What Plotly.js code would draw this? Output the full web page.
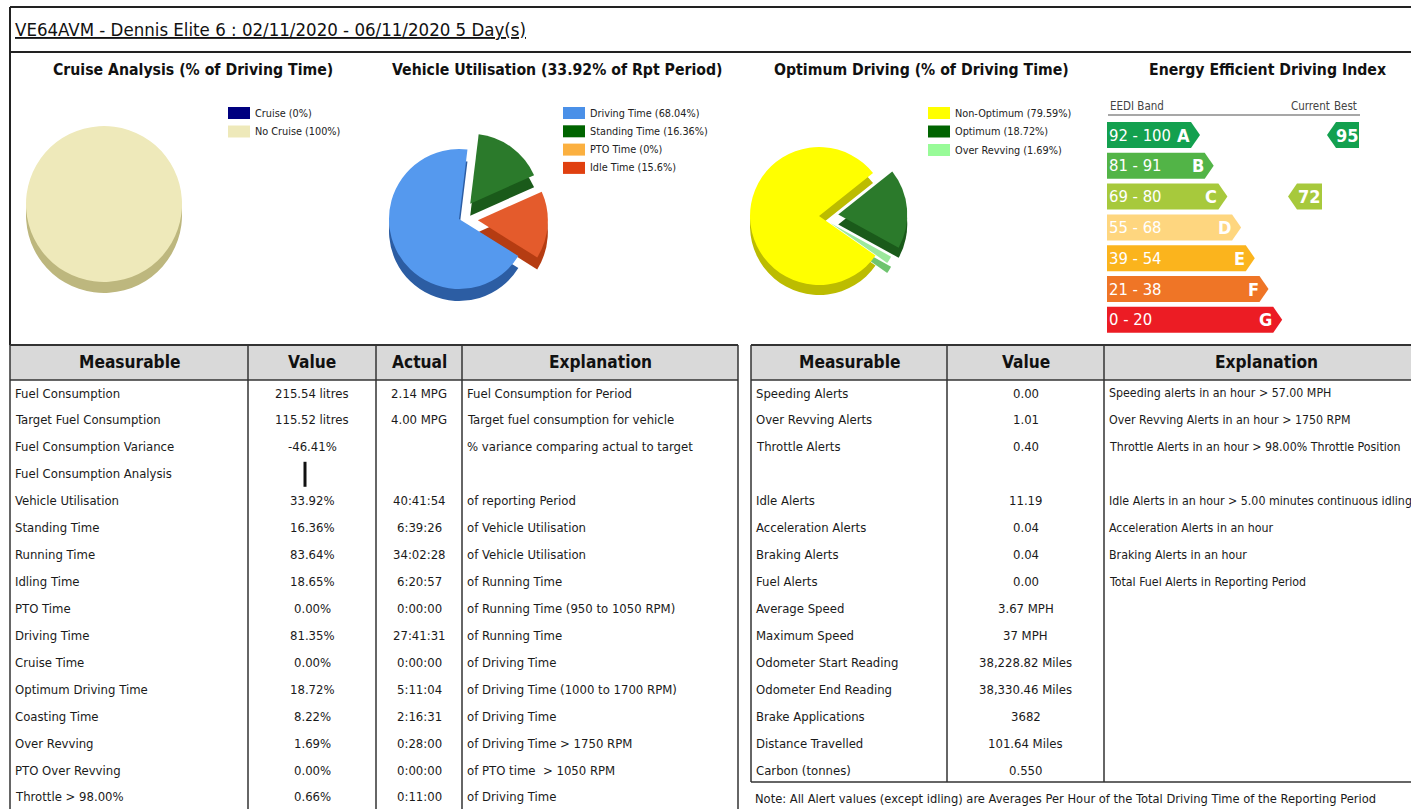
<!DOCTYPE html>
<html><head><meta charset="utf-8">
<script src="https://cdn.plot.ly/plotly-3.0.1.min.js"></script>
<style>html,body{margin:0;padding:0;background:#fff}#chart{width:1411px;height:809px}</style>
</head><body><div id="chart"></div>
<script>
// ---------------- DATA ----------------
const reportTitle = "VE64AVM - Dennis Elite 6 : 02/11/2020 - 06/11/2020 5 Day(s)";
const sectionTitles = ["Cruise Analysis (% of Driving Time)", "Vehicle Utilisation (33.92% of Rpt Period)", "Optimum Driving (% of Driving Time)", "Energy Efficient Driving Index"];

const cruiseLabels = ["Cruise", "No Cruise"];
const cruiseValues = [0, 100];

const utilLabels = ["Driving Time", "Standing Time", "PTO Time", "Idle Time"];
const utilValues = [68.04, 16.36, 0, 15.6];

const optLabels = ["Non-Optimum", "Optimum", "Over Revving"];
const optValues = [79.59, 18.72, 1.69];

const eediBands = ["92 - 100", "81 - 91", "69 - 80", "55 - 68", "39 - 54", "21 - 38", "0 - 20"];
const eediLetters = ["A", "B", "C", "D", "E", "F", "G"];
const eediBandMin = [92, 81, 69, 55, 39, 21, 0];
const eediCurrent = 72;
const eediBest = 95;

const leftHeaders = ["Measurable", "Value", "Actual", "Explanation"];
const leftMeasurable = ["Fuel Consumption", "Target Fuel Consumption", "Fuel Consumption Variance", "Fuel Consumption Analysis", "Vehicle Utilisation", "Standing Time", "Running Time", "Idling Time", "PTO Time", "Driving Time", "Cruise Time", "Optimum Driving Time", "Coasting Time", "Over Revving", "PTO Over Revving", "Throttle > 98.00%"];
const leftValue = ["215.54 litres", "115.52 litres", "-46.41%", "", "33.92%", "16.36%", "83.64%", "18.65%", "0.00%", "81.35%", "0.00%", "18.72%", "8.22%", "1.69%", "0.00%", "0.66%"];
const leftActual = ["2.14 MPG", "4.00 MPG", "", "", "40:41:54", "6:39:26", "34:02:28", "6:20:57", "0:00:00", "27:41:31", "0:00:00", "5:11:04", "2:16:31", "0:28:00", "0:00:00", "0:11:00"];
const leftExplanation = ["Fuel Consumption for Period", "Target fuel consumption for vehicle", "% variance comparing actual to target", "", "of reporting Period", "of Vehicle Utilisation", "of Vehicle Utilisation", "of Running Time", "of Running Time (950 to 1050 RPM)", "of Running Time", "of Driving Time", "of Driving Time (1000 to 1700 RPM)", "of Driving Time", "of Driving Time > 1750 RPM", "of PTO time  > 1050 RPM", "of Driving Time"];
const fuelAnalysisRow = 3;

const rightHeaders = ["Measurable", "Value", "Explanation"];
const rightMeasurable = ["Speeding Alerts", "Over Revving Alerts", "Throttle Alerts", "", "Idle Alerts", "Acceleration Alerts", "Braking Alerts", "Fuel Alerts", "Average Speed", "Maximum Speed", "Odometer Start Reading", "Odometer End Reading", "Brake Applications", "Distance Travelled", "Carbon (tonnes)"];
const rightValue = ["0.00", "1.01", "0.40", "", "11.19", "0.04", "0.04", "0.00", "3.67 MPH", "37 MPH", "38,228.82 Miles", "38,330.46 Miles", "3682", "101.64 Miles", "0.550"];
const rightExplanation = ["Speeding alerts in an hour > 57.00 MPH", "Over Revving Alerts in an hour > 1750 RPM", "Throttle Alerts in an hour > 98.00% Throttle Position", "", "Idle Alerts in an hour > 5.00 minutes continuous idling", "Acceleration Alerts in an hour", "Braking Alerts in an hour", "Total Fuel Alerts in Reporting Period", "", "", "", "", "", "", ""];
const noteText = "Note: All Alert values (except idling) are Averages Per Hour of the Total Driving Time of the Reporting Period";

// ---------------- STYLE / LAYOUT ----------------
const W = 1411, H = 809;
const FONT = '"DejaVu Sans Condensed","Liberation Sans Narrow","Arial Narrow","Liberation Sans",sans-serif';
const INK = '#1a1a1a';
const shapes = [], annotations = [], traces = [];

function line(x0, y0, x1, y1, color, width) {
  shapes.push({type: 'line', xref: 'x', yref: 'y', x0, y0, x1, y1, line: {color: color || '#333', width: width || 1.5}});
}
function rect(x0, y0, x1, y1, fill) {
  shapes.push({type: 'rect', xref: 'x', yref: 'y', x0, y0, x1, y1, fillcolor: fill, line: {width: 0}, layer: 'below'});
}
function path(d, fill) {
  shapes.push({type: 'path', xref: 'x', yref: 'y', path: d, fillcolor: fill, line: {width: 0}});
}
function text(x, y, t, o) {
  o = o || {};
  annotations.push({xref: 'x', yref: 'y', x, y, text: t, showarrow: false,
    xanchor: o.xa || 'left', yanchor: 'middle', align: o.xa || 'left',
    font: Object.assign({family: FONT, size: o.size || 13, color: o.color || INK}, o.font || {})});
}

// invisible trace so the pixel-space axes exist
traces.push({type: 'scatter', x: [0, W], y: [0, H], mode: 'markers', marker: {opacity: 0}, hoverinfo: 'skip', showlegend: false});

// ---- title band ----
line(10, 7, W, 7, '#222', 2);
line(10, 52, W, 52, '#222', 2);
line(10, 7, 10, 345, '#222', 2);
text(13, 29, reportTitle, {size: 18.5, font: {lineposition: 'under', color: '#111'}});

// ---- section titles ----
const secX = [193, 557, 921, 1267];
sectionTitles.forEach((t, i) => text(secX[i], 69, '<b>' + t + '</b>', {xa: 'center', size: 15.7, color: '#111'}));

// ---- pies (top face + darker, lowered under-face for depth) ----
function pie(values, labels, colors, edgeColors, cx, cy, r, depth, pulls, rotation) {
  const maxPull = Math.max.apply(null, pulls);
  const h = r * (1 + maxPull);
  const mk = (dy, cols) => ({
    type: 'pie', values, labels, sort: false, direction: 'clockwise', rotation,
    pull: pulls, textinfo: 'none', hoverinfo: 'skip', showlegend: false,
    marker: {colors: cols, line: {width: 0}},
    domain: {x: [(cx - h) / W, (cx + h) / W], y: [1 - (cy + dy + h) / H, 1 - (cy + dy - h) / H]}
  });
  traces.push(mk(depth, edgeColors));
  traces.push(mk(0, colors));
}
function legend(labels, values, colors, x0, y0, pitch) {
  labels.forEach((l, i) => {
    const y = y0 + i * pitch;
    rect(x0, y - 6, x0 + 22, y + 6, colors[i]);
    text(x0 + 25, y, l + ' (' + values[i] + '%)', {size: 10.8, color: '#222'});
  });
}

const cruiseColors = ['#00007f', '#eee9ba'];
const cruiseEdge = ['#00005a', '#bdb77e'];
pie(cruiseValues, cruiseLabels, cruiseColors, cruiseEdge, 104, 204, 78, 11, [0.08, 0], 120);
legend(cruiseLabels, cruiseValues, cruiseColors, 228, 113, 18.5);

const utilColors = ['#5599ee', '#2b7a2b', '#f6b043', '#e45b2c'];
const utilEdge = ['#2c5da3', '#1a5a1a', '#c98a25', '#b53c12'];
const utilLegend = ['#4a90e8', '#006400', '#fbb040', '#e04010'];
pie(utilValues, utilLabels, utilColors, utilEdge, 459, 219, 70, 12, [0, 0.27, 0.27, 0.27], 122);
legend(utilLabels, utilValues, utilLegend, 563, 113, 18.3);

const optColors = ['#ffff00', '#2b7a2b', '#9be89b'];
const optEdge = ['#bcbc00', '#1a5a1a', '#6fc46f'];
const optLegend = ['#ffff00', '#006400', '#98fb98'];
pie(optValues, optLabels, optColors, optEdge, 819, 216, 69, 10, [0, 0.28, 0.2], 125);
legend(optLabels, optValues, optLegend, 928, 113, 18.5);

// ---- EEDI ----
const bandColors = ['#13a04f', '#52b447', '#a7c93c', '#fed67f', '#fbb41d', '#ef7526', '#ec1c24'];
const bandTop0 = 122, bandPitch = 30.8, bandH = 26, bandX0 = 1107, tip0 = 1200, tipStep = 13.7, tipDepth = 9;
text(1108, 106, 'EEDI Band', {size: 11.5, color: '#444'});
text(1289, 106, 'Current', {size: 11.5, color: '#444'});
text(1332, 106, 'Best', {size: 11.5, color: '#444'});
line(1108, 115, 1360, 115, '#8a8a8a', 1.5);
eediBands.forEach((b, i) => {
  const yt = bandTop0 + i * bandPitch, yb = yt + bandH, ym = (yt + yb) / 2;
  const xt = tip0 + i * tipStep, xb = xt - tipDepth;
  path(`M${bandX0},${yt} L${xb},${yt} L${xt},${ym} L${xb},${yb} L${bandX0},${yb} Z`, bandColors[i]);
  text(bandX0, ym, b, {size: 16.5, color: '#ffffff'});
  text(xb + 1, ym, '<b>' + eediLetters[i] + '</b>', {xa: 'right', size: 18, color: '#ffffff'});
});
function bandIndex(score) { for (let i = 0; i < eediBandMin.length; i++) if (score >= eediBandMin[i]) return i; return eediBandMin.length - 1; }
function scoreArrow(score, xTip, xRight) {
  const i = bandIndex(score);
  const yt = bandTop0 + i * bandPitch, yb = yt + bandH, ym = (yt + yb) / 2, xb = xTip + tipDepth;
  path(`M${xTip},${ym} L${xb},${yt} L${xRight},${yt} L${xRight},${yb} L${xb},${yb} Z`, bandColors[i]);
  text((xb + xRight) / 2, ym, '<b>' + score + '</b>', {xa: 'center', size: 18, color: '#ffffff'});
}
scoreArrow(eediCurrent, 1288, 1322);
scoreArrow(eediBest, 1327, 1359);

// ---- tables ----
const rowY0 = 393, rowPitch = 26.93, headTop = 345, headBot = 380;
// left table
const lCols = [10, 248, 376, 462, 738];
rect(lCols[0], headTop, lCols[4], headBot, '#d9d9d9');
line(lCols[0], headTop, lCols[4], headTop, '#333', 2);
line(lCols[0], headBot, lCols[4], headBot, '#333', 1.5);
lCols.forEach(x => line(x, headTop, x, H, '#333', 1.5));
leftHeaders.forEach((h, i) => text((lCols[i] + lCols[i + 1]) / 2, 362, '<b>' + h + '</b>', {xa: 'center', size: 17.2, color: '#111'}));
leftMeasurable.forEach((m, i) => {
  const y = rowY0 + i * rowPitch;
  text(13, y, m);
  if (leftValue[i]) text((lCols[1] + lCols[2]) / 2, y, leftValue[i], {xa: 'center'});
  if (leftActual[i]) text((lCols[2] + lCols[3]) / 2, y, leftActual[i], {xa: 'center'});
  if (leftExplanation[i]) text(465, y, leftExplanation[i]);
});
{ // fuel consumption analysis indicator
  const y = rowY0 + fuelAnalysisRow * rowPitch;
  line(305, y - 12, 305, y + 13, '#111', 3);
}
// right table
const rCols = [751, 947, 1104, 1428];
const rBottom = 782;
rect(rCols[0], headTop, W, headBot, '#d9d9d9');
line(rCols[0], headTop, W, headTop, '#333', 2);
line(rCols[0], headBot, W, headBot, '#333', 1.5);
line(rCols[0], rBottom, W, rBottom, '#333', 1.5);
rCols.slice(0, 3).forEach(x => line(x, headTop, x, rBottom, '#333', 1.5));
rightHeaders.forEach((h, i) => text((rCols[i] + rCols[i + 1]) / 2, 362, '<b>' + h + '</b>', {xa: 'center', size: 17.2, color: '#111'}));
rightMeasurable.forEach((m, i) => {
  const y = rowY0 + i * rowPitch;
  if (m) text(754, y, m);
  if (rightValue[i]) text((rCols[1] + rCols[2]) / 2, y, rightValue[i], {xa: 'center'});
  if (rightExplanation[i]) text(1107, y, rightExplanation[i], {size: 12.3});
});
text(753, 798, noteText, {size: 12.8});

const layout = {
  width: W, height: H, margin: {l: 0, r: 0, t: 0, b: 0},
  paper_bgcolor: '#ffffff', plot_bgcolor: 'rgba(0,0,0,0)', showlegend: false,
  xaxis: {range: [0, W], visible: false, fixedrange: true, domain: [0, 1]},
  yaxis: {range: [H, 0], visible: false, fixedrange: true, domain: [0, 1]},
  shapes, annotations, hovermode: false
};
Plotly.newPlot('chart', traces, layout, {displayModeBar: false, staticPlot: true});
</script></body></html>
